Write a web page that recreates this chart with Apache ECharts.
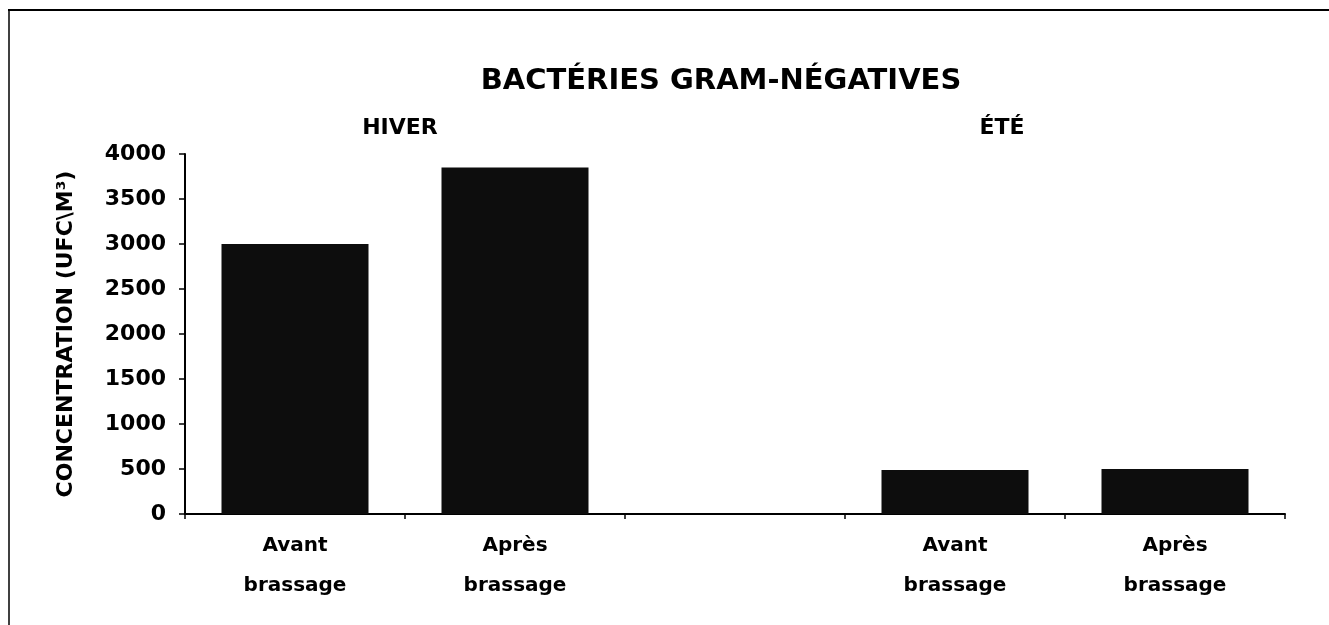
<!DOCTYPE html>
<html>
<head>
<meta charset="utf-8">
<title>Bactéries gram-négatives</title>
<script src="https://cdn.jsdelivr.net/npm/echarts@6/dist/echarts.min.js"></script>
<style>
  html, body { margin: 0; padding: 0; background: #fff; }
  #chart { width: 1329px; height: 625px; }
</style>
</head>
<body>
<div id="chart"></div>
<script>
// données
const categories = ['Avant\nbrassage', 'Après\nbrassage', '', 'Avant\nbrassage', 'Après\nbrassage'];
const concentration = [3000, 3850, null, 490, 500];
const yTicks = { min: 0, max: 4000, step: 500 };
const seasons = ['HIVER', 'ÉTÉ'];

const chart = echarts.init(document.getElementById('chart'));

const font = 'DejaVu Sans, Liberation Sans, sans-serif';

const option = {
  backgroundColor: '#fff',
  animation: false,
  title: {
    text: 'BACTÉRIES GRAM-NÉGATIVES',
    left: 716,
    top: 62,
    textAlign: 'center',
    textStyle: { fontFamily: font, fontSize: 29, fontWeight: 'bold', color: '#000' }
  },
  graphic: [
    // cadre (haut et gauche)
    { type: 'line', shape: { x1: 8, y1: 10, x2: 1329, y2: 10 }, style: { stroke: '#000', lineWidth: 2 } },
    { type: 'line', shape: { x1: 9, y1: 10, x2: 9, y2: 625 }, style: { stroke: '#000', lineWidth: 1.5 } },
    // saisons
    { type: 'text', x: 400, y: 117, style: { text: seasons[0], fontFamily: font, fontSize: 22, fontWeight: 'bold', fill: '#000', textAlign: 'center' } },
    { type: 'text', x: 1002, y: 117, style: { text: seasons[1], fontFamily: font, fontSize: 22, fontWeight: 'bold', fill: '#000', textAlign: 'center' } }
  ],
  grid: { left: 185, right: 44, top: 154, bottom: 111 },
  xAxis: {
    type: 'category',
    data: categories,
    axisLine: { lineStyle: { color: '#000', width: 2 } },
    axisTick: { show: true, length: 5, lineStyle: { color: '#000', width: 1.5 } },
    axisLabel: {
      margin: 12,
      fontFamily: font,
      fontSize: 20,
      fontWeight: 'bold',
      color: '#000',
      lineHeight: 40,
      interval: 0
    }
  },
  yAxis: {
    type: 'value',
    min: yTicks.min,
    max: yTicks.max,
    interval: yTicks.step,
    name: 'CONCENTRATION (UFC\\M³)',
    nameLocation: 'middle',
    nameGap: 108,
    nameTextStyle: { fontFamily: font, fontSize: 22, fontWeight: 'bold', color: '#000' },
    axisLine: { show: true, lineStyle: { color: '#000', width: 2 } },
    axisTick: { show: true, length: 6, lineStyle: { color: '#000', width: 1.5 } },
    splitLine: { show: false },
    axisLabel: {
      margin: 19,
      fontFamily: font,
      fontSize: 22,
      fontWeight: 'bold',
      color: '#000',
      formatter: (v) => String(v)
    }
  },
  series: [{
    type: 'bar',
    data: concentration,
    barWidth: 147,
    itemStyle: { color: '#0d0d0d' }
  }]
};

chart.setOption(option);
</script>
</body>
</html>
